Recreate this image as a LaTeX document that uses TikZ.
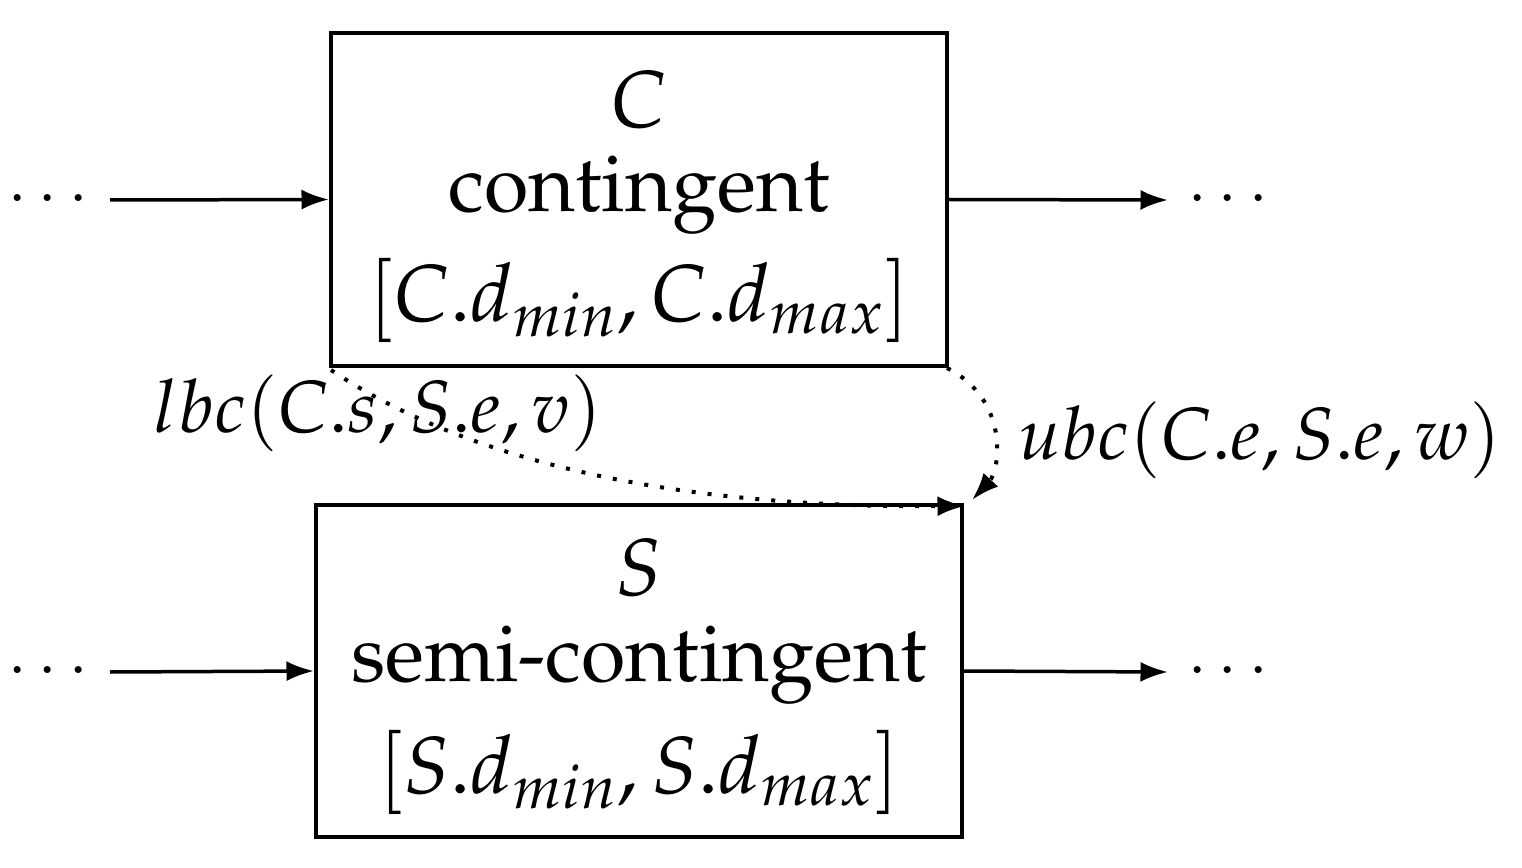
\documentclass[tikz,border=0pt]{standalone}
\usepackage[T1]{fontenc}
\usepackage{mathpazo}
\usetikzlibrary{arrows.meta}
\begin{document}
\begin{tikzpicture}[x=0.02cm,y=-0.02cm,
  box/.style={draw,line width=0.08cm,inner sep=0pt},
  txt/.style={font=\fontfamily{ppl}\fontsize{46}{50}\selectfont,inner sep=0pt},
  lab/.style={font=\fontfamily{ppl}\fontsize{42}{48}\selectfont,inner sep=0pt},
  dt/.style={font=\fontsize{36}{40}\selectfont,inner sep=0pt},
  arr/.style={line width=0.07cm,-{Latex[length=0.55cm,width=0.4cm]}},
  dot/.style={line width=0.08cm,dash pattern=on 0.08cm off 0.24cm,-{Latex[length=0.55cm,width=0.4cm]}}]
\useasboundingbox (0,0) rectangle (1522,868);
\node[box,minimum width=616*0.02cm,minimum height=333*0.02cm] (C) at (639,199.5) {};
\node[box,minimum width=646*0.02cm,minimum height=332*0.02cm] (S) at (639,671) {};
\node[txt] (c1) at (639,100) {$C$};
\node[txt] (c2) at (639,195) {contingent};
\node[txt] (c3) at (639,300) {$[C.d_{min}, C.d_{max}]$};
\node[txt] (s1) at (639,568) {$S$};
\node[txt] (s2) at (639,665) {semi-contingent};
\node[txt] (s3) at (639,772) {$[S.d_{min}, S.d_{max}]$};
\node[dt] (d1) at (48,200) {$\cdots$};
\node[dt] (d2) at (1228,200) {$\cdots$};
\node[dt] (d3) at (48,672) {$\cdots$};
\node[dt] (d4) at (1228,672) {$\cdots$};
\coordinate (a1) at (110,200); \coordinate (a2) at (1168,200);
\coordinate (a3) at (110,672); \coordinate (a4) at (1168,672);
\draw[arr] (a1) -- (C.west);
\draw[arr] (C.east) -- (a2);
\draw[arr] (a3) -- (S.west);
\draw[arr] (S.east) -- (a4);
\coordinate (cs) at (331,370); \coordinate (ce) at (947,368);
\coordinate (t1) at (965,506); \coordinate (t2) at (972,500);
\draw[dot] (cs) .. controls (480,470) and (700,508) .. (t1);
\draw[dot] (ce) .. controls (1010,400) and (1000,470) .. (t2);
\node[lab] (l) at (378,413) {$lbc(C.s, S.e, v)$};
\node[lab] (u) at (1260,440) {$ubc(C.e, S.e, w)$};
\end{tikzpicture}
\end{document}
